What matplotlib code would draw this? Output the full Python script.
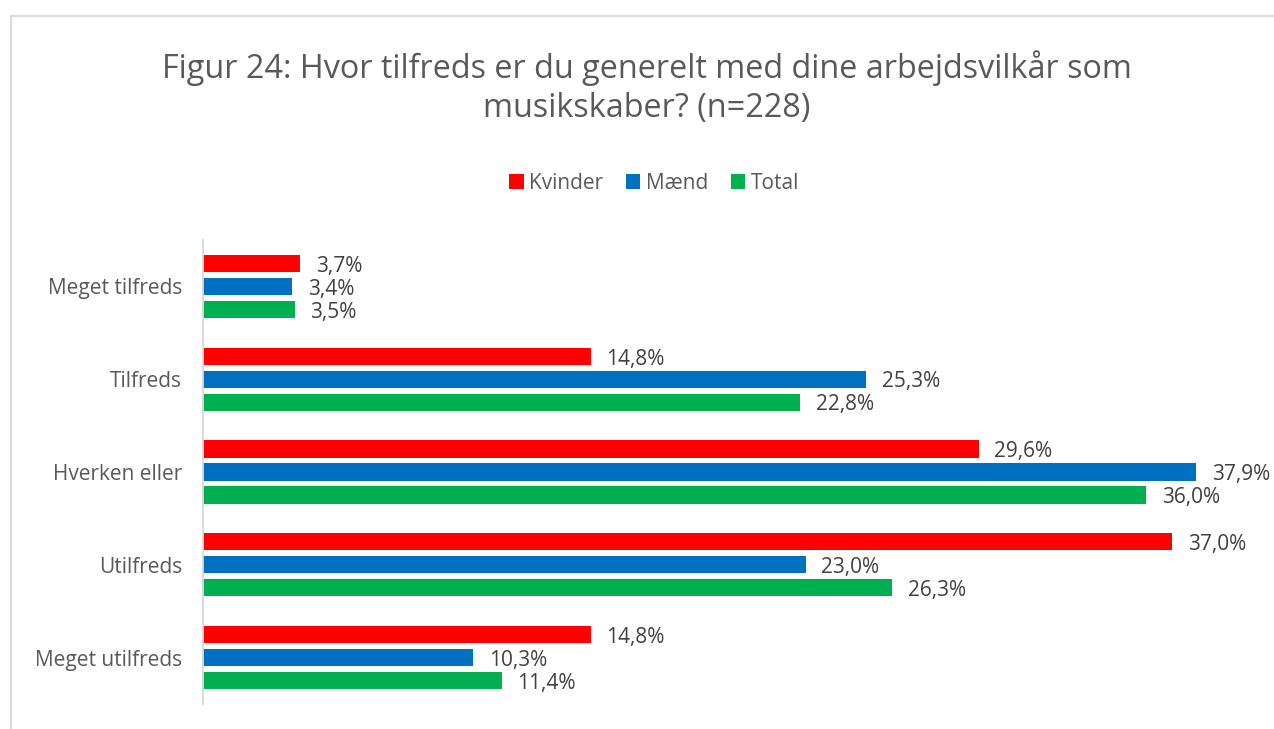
import matplotlib.pyplot as plt
from matplotlib.patches import Rectangle
import numpy as np

plt.rcParams['font.family'] = ['Open Sans', 'DejaVu Sans']

categories = ['Meget tilfreds', 'Tilfreds', 'Hverken eller', 'Utilfreds', 'Meget utilfreds']
kvinder = [3.7, 14.8, 29.6, 37.0, 14.8]
maend = [3.4, 25.3, 37.9, 23.0, 10.3]
total = [3.5, 22.8, 36.0, 26.3, 11.4]
series = [('Kvinder', kvinder, '#ff0000'), ('Mænd', maend, '#0070c0'), ('Total', total, '#00b050')]

W, H = 1274, 729
fig = plt.figure(figsize=(W / 100, H / 100), dpi=100)
ax = fig.add_axes([203 / W, 25 / H, 1048 / W, 464 / H])

# chart frame (cut by the image edge on right and bottom)
fig.patches.append(Rectangle((11 / W, -0.1), 1.2, (729 - 16) / H + 0.1, transform=fig.transFigure,
                             fill=False, edgecolor='#d9d9d9', linewidth=1.5, clip_on=False))

y = np.arange(len(categories))
off = 0.247
h = 0.185
txt = '#404040'
fs = 15
for i, (name, vals, col) in enumerate(series):
    pos = y + (i - 1) * off
    ax.barh(pos, vals, height=h, color=col, label=name)
    for p, v in zip(pos, vals):
        ax.text(v + 0.6, p + 0.03, f'{v:.1f}%'.replace('.', ','), va='center', ha='left',
                fontsize=fs, color=txt)

ax.set_ylim(len(categories) - 0.5, -0.5)
ax.set_xlim(0, 40)
ax.set_yticks(y)
ax.set_yticklabels(categories, fontsize=fs, color='#595959')
ax.tick_params(axis='y', length=0, pad=15)
ax.set_xticks([])
for s in ['top', 'right', 'bottom']:
    ax.spines[s].set_visible(False)
ax.spines['left'].set_color('#d9d9d9')
ax.spines['left'].set_linewidth(1.3)

tx = 647 / W
fig.text(tx, 1 - 68 / H, 'Figur 24: Hvor tilfreds er du generelt med dine arbejdsvilkår som',
         ha='center', va='center', fontsize=23.3, color='#595959')
fig.text(tx, 1 - 108 / H, 'musikskaber? (n=228)', ha='center', va='center', fontsize=23.3,
         color='#595959')

fig.legend(loc='center', bbox_to_anchor=(654 / W, 1 - 183 / H), ncol=3, frameon=False,
           fontsize=fs, handlelength=0.7, handleheight=0.7, handletextpad=0.25, columnspacing=1.1,
           labelcolor='#595959')

fig.savefig('out.png', dpi=100)
